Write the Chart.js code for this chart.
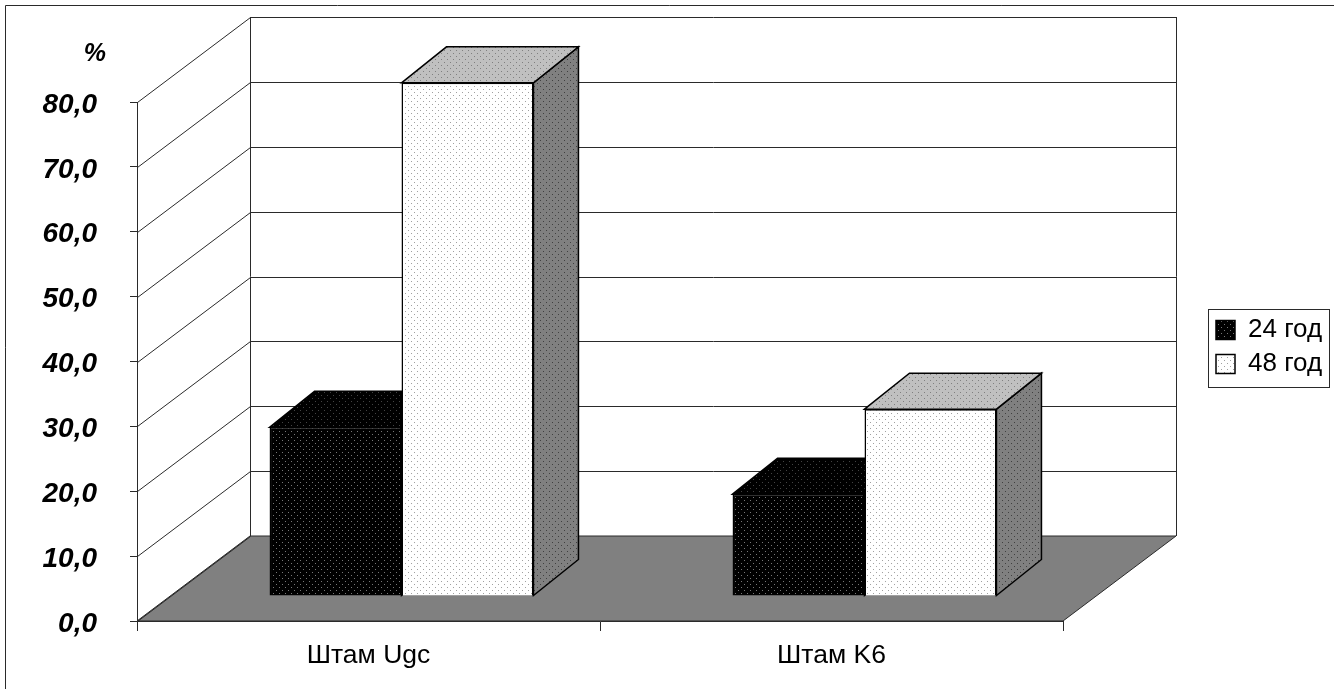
<!DOCTYPE html>
<html lang="uk">
<head>
    <meta charset="UTF-8">
    <title>Штам Ugc / Штам K6</title>
    <style>
        html, body { margin: 0; padding: 0; background: #fff; }
        canvas { display: block; }
    </style>
    <script src="https://cdn.jsdelivr.net/npm/chart.js@4"></script>
</head>
<body>
    <canvas id="barChart" width="1334" height="689"></canvas>
    <script>
        var categories = ['Штам Ugc', 'Штам K6'];
        var seriesNames = ['24 год', '48 год'];
        var values24 = [26.0, 15.7];
        var values48 = [79.1, 28.8];
        var yTickLabels = ['0,0', '10,0', '20,0', '30,0', '40,0', '50,0', '60,0', '70,0', '80,0'];
        var yUnit = '%';

        // fake 3d depth, in pixels
        var wallDx = 113, wallDy = 85;
        var barShiftDx = 33, barShiftDy = 25;
        var barDepthDx = 45, barDepthDy = 36;
        var lineColor = '#2a2a2a';

        function dots(bg, dot) {
            var c = document.createElement('canvas');
            c.width = 6;
            c.height = 6;
            var g = c.getContext('2d');
            g.fillStyle = bg;
            g.fillRect(0, 0, 6, 6);
            g.fillStyle = dot;
            g.fillRect(0, 0, 1, 1);
            g.fillRect(3, 3, 1, 1);
            return g.createPattern(c, 'repeat');
        }

        var faces = [
            { front: dots('#000000', '#777777'), top: dots('#000000', '#444444'), side: dots('#000000', '#444444') },
            { front: dots('#ffffff', '#a0a0a0'), top: dots('#c0c0c0', '#808080'), side: dots('#808080', '#404040') }
        ];

        function poly(ctx, pts, fill) {
            ctx.beginPath();
            ctx.moveTo(pts[0][0], pts[0][1]);
            for (var i = 1; i < pts.length; i++) ctx.lineTo(pts[i][0], pts[i][1]);
            ctx.closePath();
            if (fill) {
                ctx.fillStyle = fill;
                ctx.fill();
            }
            ctx.stroke();
        }

        var depth3d = {
            id: 'depth3d',
            afterLayout: function(chart) {
                var l = chart.legend;
                l.left = 1208;
                l.right = 1329;
                l.top = 309;
                l.bottom = 387;
                l.width = 121;
                l.height = 78;
            },
            beforeDatasetsDraw: function(chart) {
                var ctx = chart.ctx, y = chart.scales.y, a = chart.chartArea;
                ctx.save();
                ctx.strokeStyle = lineColor;
                ctx.lineWidth = 1;
                // floor
                poly(ctx, [[a.left, a.bottom], [a.left + wallDx, a.bottom - wallDy],
                    [a.right + wallDx, a.bottom - wallDy], [a.right, a.bottom]], '#808080');
                // gridlines on side wall and back wall
                y.ticks.forEach(function(t, i) {
                    var py = Math.round(y.getPixelForTick(i)) + 0.5;
                    var left = a.left + 0.5;
                    ctx.beginPath();
                    ctx.moveTo(left, py);
                    ctx.lineTo(left + wallDx, py - wallDy);
                    if (i > 0) ctx.lineTo(a.right + wallDx + 0.5, py - wallDy);
                    ctx.stroke();
                });
                // back wall verticals
                ctx.beginPath();
                ctx.moveTo(a.left + wallDx + 0.5, a.top - wallDy);
                ctx.lineTo(a.left + wallDx + 0.5, a.bottom - wallDy);
                ctx.moveTo(a.right + wallDx + 0.5, a.top - wallDy);
                ctx.lineTo(a.right + wallDx + 0.5, a.bottom - wallDy);
                ctx.stroke();
                // side and top faces of the bars, left series first
                ctx.translate(barShiftDx, -barShiftDy);
                ctx.strokeStyle = '#000';
                ctx.lineWidth = 1.5;
                [0, 1].forEach(function(d) {
                    var f = faces[d];
                    chart.getDatasetMeta(d).data.forEach(function(bar) {
                        var l = bar.x - bar.width / 2, r = bar.x + bar.width / 2;
                        poly(ctx, [[r, bar.y], [r + barDepthDx, bar.y - barDepthDy],
                            [r + barDepthDx, bar.base - barDepthDy], [r, bar.base]], f.side);
                        poly(ctx, [[l, bar.y], [l + barDepthDx, bar.y - barDepthDy],
                            [r + barDepthDx, bar.y - barDepthDy], [r, bar.y]], f.top);
                    });
                });
                ctx.restore();
            },
            beforeDatasetDraw: function(chart) {
                chart.ctx.save();
                chart.ctx.translate(barShiftDx, -barShiftDy);
            },
            afterDatasetDraw: function(chart) {
                chart.ctx.restore();
            },
            afterDraw: function(chart) {
                var ctx = chart.ctx, l = chart.legend;
                ctx.save();
                // outer frame, top and left only reach the picture
                ctx.strokeStyle = lineColor;
                ctx.lineWidth = 1;
                ctx.beginPath();
                ctx.moveTo(1334, 5.5);
                ctx.lineTo(5.5, 5.5);
                ctx.lineTo(5.5, 689);
                ctx.stroke();
                // legend box
                ctx.strokeRect(l.left + 0.5, l.top + 0.5, l.width, l.height);
                // unit above the axis
                ctx.fillStyle = '#000';
                ctx.font = 'italic bold 25px "Liberation Sans", Arial, sans-serif';
                ctx.textAlign = 'right';
                ctx.textBaseline = 'middle';
                ctx.fillText(yUnit, 106, 54);
                ctx.restore();
            }
        };

        new Chart(document.getElementById('barChart').getContext('2d'), {
            type: 'bar',
            data: {
                labels: categories,
                datasets: [
                    { label: seriesNames[0], data: values24, backgroundColor: faces[0].front, borderColor: '#000', borderWidth: 1.5 },
                    { label: seriesNames[1], data: values48, backgroundColor: faces[1].front, borderColor: '#000', borderWidth: 1.5 }
                ]
            },
            options: {
                responsive: false,
                animation: false,
                categoryPercentage: 0.57,
                barPercentage: 1,
                layout: { padding: { top: 102, right: 271, bottom: 0, left: 0 } },
                plugins: {
                    tooltip: { enabled: false },
                    legend: {
                        position: 'chartArea',
                        align: 'start',
                        labels: {
                            boxWidth: 19,
                            boxHeight: 19,
                            padding: 8,
                            color: '#000',
                            font: { family: '"Liberation Sans", Arial, sans-serif', size: 26 }
                        }
                    }
                },
                scales: {
                    x: {
                        afterFit: function(s) { s.height = 68; },
                        border: { display: true, color: lineColor },
                        grid: { drawOnChartArea: false, tickLength: 10, color: lineColor },
                        ticks: {
                            color: '#000',
                            maxRotation: 0,
                            padding: 9,
                            font: { family: '"Liberation Sans", Arial, sans-serif', size: 26.5 }
                        }
                    },
                    y: {
                        min: 0,
                        max: 80,
                        afterFit: function(s) { s.width = 137; },
                        border: { display: true, color: lineColor },
                        grid: { drawOnChartArea: false, tickLength: 7, color: lineColor },
                        ticks: {
                            stepSize: 10,
                            padding: 33,
                            labelOffset: 3,
                            color: '#000',
                            font: { family: '"Liberation Sans", Arial, sans-serif', size: 28, weight: 'bold', style: 'italic' },
                            callback: function(v, i) { return yTickLabels[i]; }
                        }
                    }
                }
            },
            plugins: [depth3d]
        });
    </script>
</body>
</html>
